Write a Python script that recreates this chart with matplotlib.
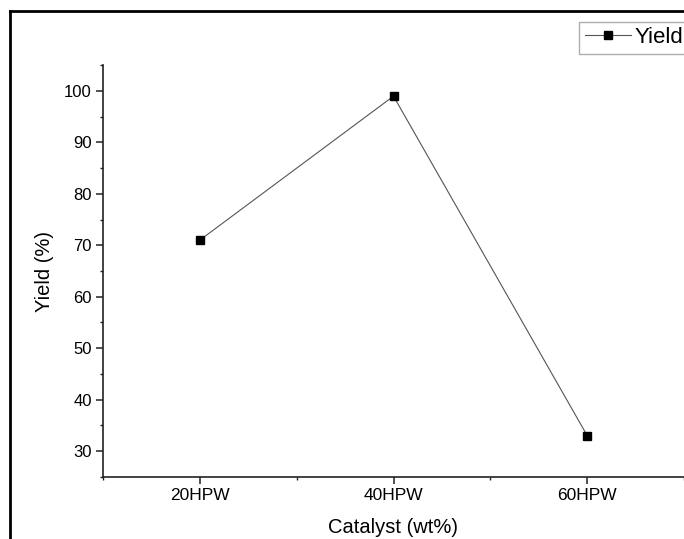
import matplotlib.pyplot as plt
from matplotlib.lines import Line2D
from matplotlib.ticker import MultipleLocator

plt.rcParams['font.family'] = ['Liberation Sans', 'DejaVu Sans']

catalysts = ['20HPW', '40HPW', '60HPW']
yield_pct = [71, 99, 33]
y_ticks = [30, 40, 50, 60, 70, 80, 90, 100]

W, H = 684, 539
fig = plt.figure(figsize=(W / 100, H / 100), dpi=100)
ax = fig.add_axes([103 / W, 1 - 476.7 / H, 581 / W, (476.7 - 65.3) / H])

x = list(range(len(catalysts)))
ax.plot(x, yield_pct, color='#555555', linewidth=0.8, marker='s',
        markersize=6, markerfacecolor='black', markeredgecolor='black',
        label='Yield')

ax.set_xlim(-0.5, 2.5)
ax.set_ylim(25, 105)
ax.set_xticks(x)
ax.set_xticklabels(catalysts)
ax.set_yticks(y_ticks)
ax.xaxis.set_minor_locator(plt.FixedLocator([-0.5, 0.5, 1.5, 2.5]))
ax.yaxis.set_minor_locator(MultipleLocator(5))

for side in ('top', 'right'):
    ax.spines[side].set_visible(False)
for side in ('left', 'bottom'):
    ax.spines[side].set_linewidth(1.2)
    ax.spines[side].set_color('#222222')

ax.tick_params(which='major', direction='out', length=5, width=1.1,
               labelsize=12, pad=3, color='#222222')
ax.tick_params(axis='x', which='major', labelsize=12.5)
ax.tick_params(which='minor', direction='out', length=2.5, width=1.0,
               color='#222222')

ax.set_xlabel('Catalyst (wt%)', fontsize=14.5, labelpad=11)
ax.set_ylabel('Yield (%)', fontsize=14.5, labelpad=7)

leg = ax.legend(loc='upper left', bbox_to_anchor=(579 / W, 1 - 21.7 / H),
                bbox_transform=fig.transFigure, fontsize=16, frameon=True,
                fancybox=False, borderpad=0.25, borderaxespad=0,
                handlelength=2.1, handletextpad=0.15)
leg.get_frame().set_edgecolor('#999999')
leg.get_frame().set_linewidth(1.0)

# outer frame around the plot
fig.add_artist(Line2D([10 / W, 10 / W], [0, 1 - 11 / H], color='black',
                      linewidth=2.0, transform=fig.transFigure))
fig.add_artist(Line2D([10 / W, 1], [1 - 11 / H, 1 - 11 / H], color='black',
                      linewidth=2.0, transform=fig.transFigure))

fig.savefig('out.png', dpi=100)
